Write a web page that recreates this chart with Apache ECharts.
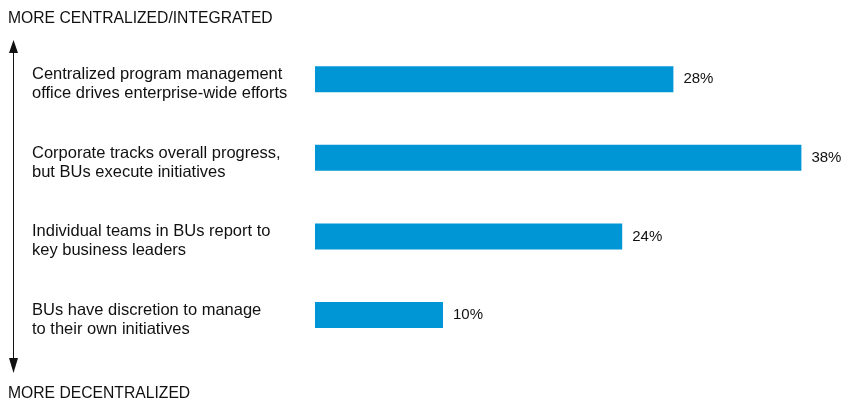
<!DOCTYPE html>
<html>
<head>
<meta charset="utf-8">
<script src="https://cdn.jsdelivr.net/npm/echarts@6/dist/echarts.min.js"></script>
<style>
html,body{margin:0;padding:0;background:#fff;}
#chart{width:859px;height:400px;}
</style>
</head>
<body>
<div id="chart"></div>
<script>
var categories = [
  "Centralized program management\noffice drives enterprise-wide efforts",
  "Corporate tracks overall progress,\nbut BUs execute initiatives",
  "Individual teams in BUs report to\nkey business leaders",
  "BUs have discretion to manage\nto their own initiatives"
];
var values = [28, 38, 24, 10];
var topLabel = "MORE CENTRALIZED/INTEGRATED";
var bottomLabel = "MORE DECENTRALIZED";

var FONT = '"Liberation Sans", Arial, Helvetica, sans-serif';
var TXT = '#111111';
var chart = echarts.init(document.getElementById('chart'), null, {renderer: 'canvas'});
chart.setOption({
  animation: false,
  backgroundColor: '#ffffff',
  grid: [
    {left: 315, right: 32, top: 40, bottom: 45.7, containLabel: false},
    {left: 315, right: 32, top: 45, bottom: 40.7, containLabel: false}
  ],
  xAxis: [
    {type: 'value', min: 0, max: 40, show: false, gridIndex: 0},
    {type: 'value', min: 0, max: 40, show: false, gridIndex: 1}
  ],
  yAxis: [
    {
      type: 'category', data: categories, inverse: true, gridIndex: 0,
      axisLine: {show: false}, axisTick: {show: false}, splitLine: {show: false},
      axisLabel: {show: false}
    },
    {
      type: 'category', data: categories, inverse: true, gridIndex: 1,
      axisLine: {show: false}, axisTick: {show: false}, splitLine: {show: false},
      axisLabel: {
        align: 'left', margin: 283, color: TXT, fontFamily: FONT, fontSize: 16.5,
        lineHeight: 19, verticalAlign: 'middle'
      }
    }
  ],
  series: [{
    type: 'bar', data: values, barWidth: 26, xAxisIndex: 0, yAxisIndex: 0,
    itemStyle: {color: '#0096D6'},
    label: {
      show: true, position: 'right', distance: 10, formatter: '{c}%',
      color: TXT, fontFamily: FONT, fontSize: 15
    }
  }],
  graphic: [
    {type: 'text', left: 8, top: 11, style: {text: topLabel, font: '15.7px ' + FONT, fill: TXT}},
    {type: 'text', left: 8, top: 386, style: {text: bottomLabel, font: '15.7px ' + FONT, fill: TXT}},
    {type: 'line', shape: {x1: 13.5, y1: 50, x2: 13.5, y2: 360}, style: {stroke: '#111', lineWidth: 1}},
    {type: 'polygon', shape: {points: [[13.5, 40], [9, 53], [18, 53]]}, style: {fill: '#111'}},
    {type: 'polygon', shape: {points: [[13.5, 373], [9, 358], [18, 358]]}, style: {fill: '#111'}}
  ]
});
</script>
</body>
</html>
